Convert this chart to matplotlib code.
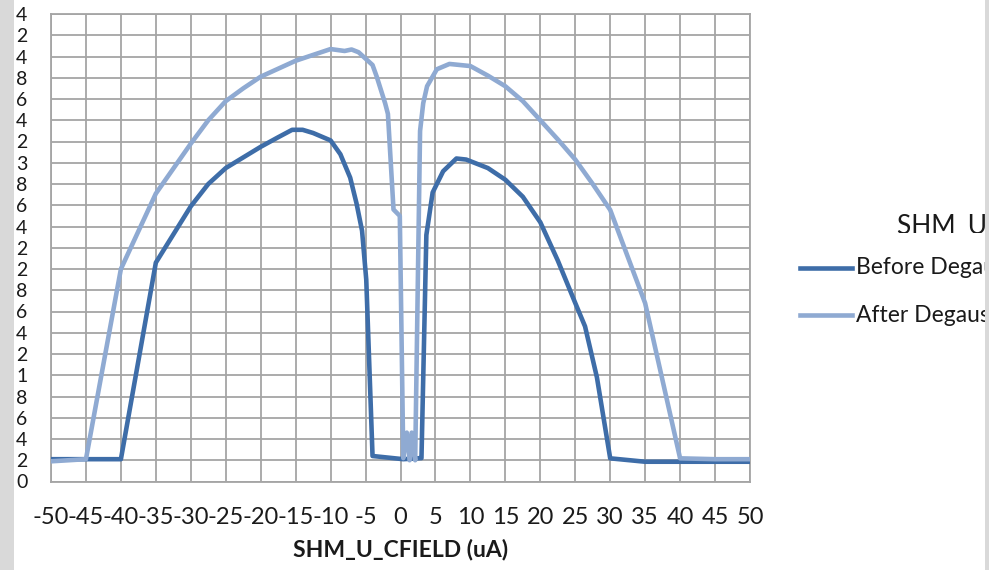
import matplotlib
matplotlib.use("Agg")
import matplotlib.pyplot as plt
from matplotlib.patches import Rectangle
from matplotlib.lines import Line2D

plt.rcParams['font.family'] = ['Lato', 'DejaVu Sans']

# ---- data (y in chart grid units) ----
before_x = [-50, -45, -40, -35, -30, -27.5, -25, -22.5, -20, -17.5, -15.5, -14, -12.5, -10,
            -8.6, -7.2, -6.3, -5.5, -4.9, -4.0, 0.4, 2.9, 3.0, 3.7, 4.6, 6.1, 8.0, 9.4,
            12.5, 15, 17.5, 20, 22.5, 25, 26.4, 28.1, 30, 35, 40, 45, 50]
before_y = [1.05, 1.05, 1.05, 10.3, 12.95, 14.0, 14.75, 15.25, 15.75, 16.2, 16.55, 16.55, 16.4, 16.05,
            15.4, 14.3, 13.1, 11.8, 9.5, 1.2, 1.05, 1.1, 1.1, 11.6, 13.6, 14.6, 15.2, 15.15,
            14.75, 14.2, 13.4, 12.2, 10.4, 8.4, 7.3, 4.9, 1.09, 0.93, 0.93, 0.93, 0.93]

after_x = [-50, -45, -40, -35, -30, -27.5, -25, -22.5, -20, -15, -10, -8, -7, -6, -5, -4, -3.4,
           -2.2, -1.8, -1.0, -0.1, 0.4, 0.9, 1.3, 1.6, 2.1, 2.8, 3.25, 3.8, 5.2, 7, 10, 12.5,
           15, 17.5, 20, 22.5, 25, 27.5, 30, 35, 40, 45, 50]
after_y = [0.95, 1.05, 10.0, 13.55, 15.9, 17.0, 17.9, 18.5, 19.05, 19.8, 20.35, 20.26, 20.33,
           20.2, 19.9, 19.6, 19.05, 17.8, 17.3, 12.8, 12.5, 1.1, 2.3, 1.0, 2.3, 1.0, 16.5,
           17.8, 18.6, 19.4, 19.65, 19.55, 19.1, 18.6, 17.9, 17.0, 16.1, 15.15, 14.0, 12.78,
           8.39, 1.09, 1.05, 1.05]

x_ticks = list(range(-50, 51, 5))
y_tick_labels = ["0", "2", "4", "6", "8", "1", "2", "4", "6", "8", "2", "2",
                 "4", "6", "8", "3", "2", "4", "6", "8", "4", "2", "4"]
series_names = ["Before Degauss", "After Degauss"]
legend_title = "SHM_U_CFIELD (uA)"
x_label = "SHM_U_CFIELD (uA)"

dark = "#3E6DA8"
light = "#8FAAD2"
grid_c = "#A5A5A5"

W, H = 989, 570
fig = plt.figure(figsize=(W / 100, H / 100), dpi=100)
fig.patch.set_facecolor("white")

ax = fig.add_axes([51 / W, (H - 481.5) / H, 699 / W, 467.5 / H])
ax.set_xlim(-50, 50)
ax.set_ylim(0, 22)
ax.set_xticks(x_ticks)
ax.set_xticklabels([str(v) for v in x_ticks])
ax.set_yticks(range(len(y_tick_labels)))
ax.set_yticklabels(y_tick_labels)
ax.grid(True, color=grid_c, lw=1.3)
ax.set_axisbelow(True)
for s in ax.spines.values():
    s.set_color(grid_c)
    s.set_linewidth(1.3)
ax.tick_params(axis='both', length=0, labelcolor="#1a1a1a")
ax.tick_params(axis='x', pad=18, labelsize=17)
ax.tick_params(axis='y', pad=17, labelsize=14)

ax.plot(before_x, before_y, color=dark, lw=3.3, solid_joinstyle='round', zorder=3)
ax.plot(after_x, after_y, color=light, lw=3.3, solid_joinstyle='round', zorder=4)

fig.text(400.5 / W, (H - 550) / H, x_label, ha='center', va='center',
         fontsize=16.5, fontweight='bold', color="#1a1a1a")

# legend (clipped by the image's right edge, as in the source screenshot)
clip_r = Rectangle((0, 0), 985 / W, 1, transform=fig.transFigure, visible=False)
fig.add_artist(clip_r)
clip_t = Rectangle((0, (H - 232.5) / H), 985 / W, 1, transform=fig.transFigure, visible=False)
fig.add_artist(clip_t)

t = fig.text(897 / W, (H - 234.5) / H, legend_title, ha='left', va='baseline',
             fontsize=19, color="#1a1a1a")
t.set_clip_path(clip_t)
for i, (name, col) in enumerate(zip(series_names, [dark, light])):
    yy = (H - (268 + 47 * i)) / H
    ln = Line2D([800 / W, 852 / W], [yy, yy], transform=fig.transFigure, color=col, lw=3.3)
    fig.add_artist(ln)
    tt = fig.text(856 / W, yy, name, ha='left', va='center', fontsize=16.5, color="#1a1a1a")
    tt.set_clip_path(clip_r)

# gray strips at image edges
fig.add_artist(Rectangle((0, 0), 14 / W, 1, transform=fig.transFigure,
                         facecolor="#D9D9D9", edgecolor='none', zorder=20))
fig.add_artist(Rectangle((985 / W, 0), 4 / W, 1, transform=fig.transFigure,
                         facecolor="#D9D9D9", edgecolor='none', zorder=20))

fig.savefig("out.png", dpi=100)
